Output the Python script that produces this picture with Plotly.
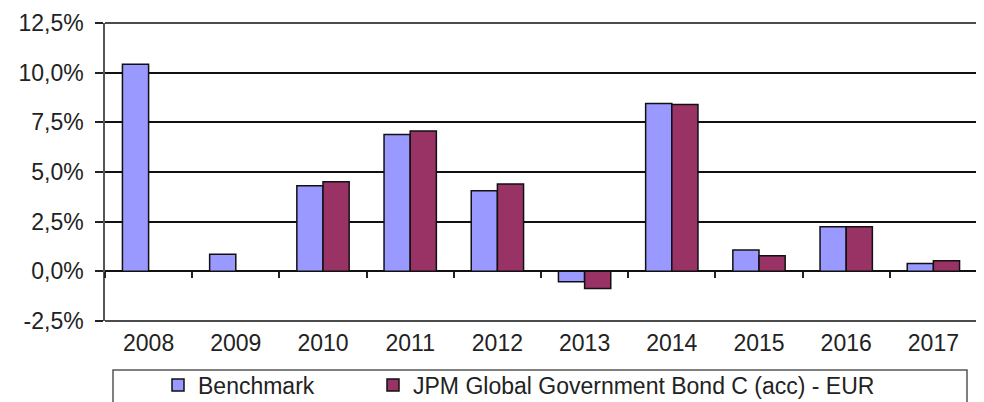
import plotly.graph_objects as go

years = ["2008", "2009", "2010", "2011", "2012", "2013", "2014", "2015", "2016", "2017"]
benchmark = [10.42, 0.86, 4.31, 6.89, 4.06, -0.52, 8.45, 1.07, 2.25, 0.40]
jpm = [None, None, 4.51, 7.06, 4.39, -0.86, 8.40, 0.79, 2.25, 0.53]
y_ticks = [-2.5, 0, 2.5, 5, 7.5, 10, 12.5]
y_labels = [f"{v:.1f}%".replace(".", ",") for v in y_ticks]

FONT = "Liberation Sans, Arial, sans-serif"
FS = 23

fig = go.Figure()
fig.add_trace(go.Bar(
    x=years, y=benchmark, name="Benchmark",
    marker=dict(color="#9999FF", line=dict(color="#111111", width=1.5)),
    legendwidth=170,
))
fig.add_trace(go.Bar(
    x=years, y=jpm, name="JPM Global Government Bond C (acc) - EUR",
    marker=dict(color="#993366", line=dict(color="#111111", width=1.5)),
    legendwidth=520,
))

ymin, ymax = y_ticks[0], y_ticks[-1]
frame = [
    dict(type="line", xref="paper", yref="paper", x0=0, x1=1, y0=yv, y1=yv,
         line=dict(color="#111111", width=1.5), layer="above")
    for yv in (0, 1)
]
legend_box = dict(
    type="rect", xref="paper", yref="paper",
    x0=(113 - 105) / 872, x1=(967 - 105) / 872,
    y0=-(410 - 321) / 298, y1=-(370 - 321) / 298,
    line=dict(color="#555555", width=1.5), fillcolor="rgba(0,0,0,0)",
    layer="below",
)

fig.update_layout(
    width=976, height=394,
    margin=dict(l=97, r=7, t=15, b=81, autoexpand=False),
    paper_bgcolor="white", plot_bgcolor="white",
    font=dict(family=FONT, size=FS, color="#222222"),
    separators=",.",
    barmode="group", bargap=0.4, bargroupgap=0,
    showlegend=True,
    legend=dict(
        orientation="h", x=(158 - 105) / 872, xanchor="left",
        y=-0.215, yanchor="middle",
        borderwidth=0, bgcolor="rgba(0,0,0,0)",
        font=dict(family=FONT, size=FS, color="#222222"),
        itemwidth=30, tracegroupgap=0,
    ),
    shapes=frame + [legend_box],
    xaxis=dict(
        type="category", range=[-0.5, len(years) - 0.5],
        anchor="free", position=(0 - ymin) / (ymax - ymin),
        showgrid=False, zeroline=False, showline=False,
        ticks="outside", tickson="boundaries", ticklen=6, tickwidth=1.5, tickcolor="#222222",
        ticklabelstandoff=56,
        tickfont=dict(size=FS),
    ),
    yaxis=dict(
        range=[ymin, ymax], tickmode="array", tickvals=y_ticks, ticktext=y_labels,
        showgrid=True, gridcolor="#111111", gridwidth=1.5,
        zeroline=True, zerolinecolor="#111111", zerolinewidth=1.5,
        showline=True, linecolor="#555555", linewidth=1.5, mirror=True,
        ticks="outside", ticklen=8, tickwidth=1.5, tickcolor="#222222",
        ticklabelstandoff=7,
        tickfont=dict(size=FS),
    ),
)

fig.write_html("out.html")
